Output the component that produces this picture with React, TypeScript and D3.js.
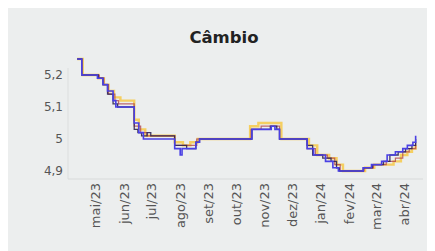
import * as d3 from "d3";

const WIDTH = 427;
const HEIGHT = 243;
const MARGIN = { top: 0, right: 12, bottom: 0, left: 60 };

const domainStart = "2023-04-01";
const domainEnd = "2024-04-21";
const yTicks = [4.9, 5.0, 5.1, 5.2];
const monthLabels = ["mai/23", "jun/23", "jul/23", "ago/23", "set/23", "out/23", "nov/23", "dez/23", "jan/24", "fev/24", "mar/24", "abr/24"];
const monthDates = ["2023-05-01", "2023-06-01", "2023-07-01", "2023-08-01", "2023-09-01", "2023-10-01", "2023-11-01", "2023-12-01", "2024-01-01", "2024-02-01", "2024-03-01", "2024-04-01"];

// step series: [date, value]
const yellowSeries: [string, number][] = [
  ["2023-04-11", 5.25], ["2023-04-17", 5.2], ["2023-05-04", 5.19], ["2023-05-10", 5.17],
  ["2023-05-15", 5.15], ["2023-05-21", 5.13], ["2023-05-28", 5.12], ["2023-06-12", 5.06],
  ["2023-06-17", 5.03], ["2023-06-24", 5.01], ["2023-07-26", 4.99], ["2023-08-04", 4.98],
  ["2023-08-12", 4.99], ["2023-08-20", 5.0], ["2023-10-16", 5.04], ["2023-10-25", 5.05],
  ["2023-11-19", 5.0], ["2023-12-19", 4.98], ["2023-12-28", 4.95], ["2024-01-10", 4.94],
  ["2024-01-18", 4.92], ["2024-01-25", 4.9], ["2024-02-18", 4.91], ["2024-02-28", 4.92],
  ["2024-03-10", 4.92], ["2024-03-20", 4.93], ["2024-03-28", 4.95], ["2024-04-04", 4.96],
  ["2024-04-09", 4.97], ["2024-04-13", 4.98],
];
const redSeries: [string, number][] = [
  ["2023-04-11", 5.25], ["2023-04-16", 5.2], ["2023-05-05", 5.19], ["2023-05-10", 5.17],
  ["2023-05-15", 5.14], ["2023-05-22", 5.12], ["2023-05-26", 5.11], ["2023-06-12", 5.04],
  ["2023-06-19", 5.02], ["2023-06-26", 5.01], ["2023-07-26", 4.98], ["2023-08-10", 4.98],
  ["2023-08-19", 5.0], ["2023-10-17", 5.03], ["2023-10-28", 5.04], ["2023-11-17", 5.0],
  ["2023-12-17", 4.97], ["2023-12-26", 4.95], ["2024-01-08", 4.94], ["2024-01-16", 4.92],
  ["2024-01-22", 4.9], ["2024-02-17", 4.91], ["2024-02-27", 4.92], ["2024-03-12", 4.93],
  ["2024-03-22", 4.94], ["2024-03-30", 4.96], ["2024-04-06", 4.97], ["2024-04-13", 4.99],
];
const darkSeries: [string, number][] = [
  ["2023-04-11", 5.25], ["2023-04-16", 5.2], ["2023-05-04", 5.19], ["2023-05-09", 5.17],
  ["2023-05-14", 5.14], ["2023-05-20", 5.11], ["2023-05-25", 5.1], ["2023-06-12", 5.03],
  ["2023-06-16", 5.02], ["2023-06-20", 5.01], ["2023-06-26", 5.02], ["2023-06-30", 5.01],
  ["2023-07-26", 4.98], ["2023-08-08", 4.97], ["2023-08-18", 4.99], ["2023-08-22", 5.0],
  ["2023-10-18", 5.03], ["2023-11-07", 5.04], ["2023-11-14", 5.03], ["2023-11-17", 5.0],
  ["2023-12-17", 4.98], ["2023-12-23", 4.95], ["2024-01-03", 4.94], ["2024-01-12", 4.93],
  ["2024-01-18", 4.91], ["2024-01-21", 4.9], ["2024-02-16", 4.91], ["2024-02-26", 4.92],
  ["2024-03-09", 4.93], ["2024-03-16", 4.95], ["2024-03-25", 4.96], ["2024-04-02", 4.97],
  ["2024-04-09", 4.98], ["2024-04-13", 5.0],
];
const blueSeries: [string, number][] = [
  ["2023-04-11", 5.25], ["2023-04-16", 5.2], ["2023-05-03", 5.19], ["2023-05-09", 5.17],
  ["2023-05-14", 5.15], ["2023-05-20", 5.12], ["2023-05-23", 5.1], ["2023-06-12", 5.05],
  ["2023-06-17", 5.02], ["2023-06-22", 5.0], ["2023-07-26", 4.97], ["2023-08-01", 4.95],
  ["2023-08-03", 4.97], ["2023-08-18", 4.99], ["2023-08-22", 5.0], ["2023-10-18", 5.03],
  ["2023-11-08", 5.04], ["2023-11-12", 5.03], ["2023-11-17", 5.0], ["2023-12-17", 4.97],
  ["2023-12-24", 4.95], ["2024-01-06", 4.93], ["2024-01-14", 4.91], ["2024-01-20", 4.9],
  ["2024-02-16", 4.91], ["2024-02-25", 4.92], ["2024-03-07", 4.93], ["2024-03-13", 4.95],
  ["2024-03-22", 4.96], ["2024-03-30", 4.97], ["2024-04-04", 4.98], ["2024-04-10", 4.99],
  ["2024-04-13", 5.01],
];

const seriesList = [
  { data: yellowSeries, color: "#f7c948", width: 2.4, opacity: 0.85 },
  { data: redSeries, color: "#b0464e", width: 1.2, opacity: 0.8 },
  { data: darkSeries, color: "#2f2453", width: 1.3, opacity: 0.9 },
  { data: blueSeries, color: "#4a40e4", width: 1.6, opacity: 1 },
];

const parse = d3.timeParse("%Y-%m-%d");

export default function App() {
  const xScale = d3
    .scaleTime()
    .domain([parse(domainStart)!, parse(domainEnd)!])
    .range([MARGIN.left, WIDTH - MARGIN.right]);
  const yScale = d3.scaleLinear().domain([4.9, 5.2]).range([163, 67]);
  const axisY = 171;

  const lineBuilder = d3
    .line<[string, number]>()
    .x((d) => xScale(parse(d[0])!))
    .y((d) => yScale(d[1]))
    .curve(d3.curveStepAfter);

  const fmt = (v: number) => d3.format(".1~f")(v).replace(".", ",");

  return (
    <div style={{ background: "#eceeee", width: WIDTH, height: HEIGHT }}>
      <svg width={WIDTH} height={HEIGHT} style={{ display: "block", fontFamily: "'DejaVu Sans', sans-serif" }}>
        <text x={216} y={35} textAnchor="middle" fontSize={16.5} fontWeight="bold" fill="#222">
          Câmbio
        </text>
        <line x1={MARGIN.left} x2={MARGIN.left} y1={60} y2={axisY} stroke="#dcdede" />
        <line x1={MARGIN.left} x2={WIDTH - MARGIN.right} y1={axisY} y2={axisY} stroke="#d8dada" />
        {yTicks.map((t) => (
          <text key={t} x={MARGIN.left - 5} y={yScale(t)} dy="0.35em" textAnchor="end" fontSize={12} fill="#555">
            {fmt(t)}
          </text>
        ))}
        {monthDates.map((d, i) => {
          const x = xScale(parse(d)!);
          return (
            <text
              key={d}
              transform={`translate(${x},${axisY + 4}) rotate(-90)`}
              dy="0.35em"
              textAnchor="end"
              fontSize={13}
              fill="#555"
            >
              {monthLabels[i]}
            </text>
          );
        })}
        {seriesList.map((s, i) => (
          <path
            key={i}
            d={lineBuilder(s.data) ?? ""}
            fill="none"
            stroke={s.color}
            strokeWidth={s.width}
            strokeOpacity={s.opacity}
          />
        ))}
      </svg>
    </div>
  );
}
